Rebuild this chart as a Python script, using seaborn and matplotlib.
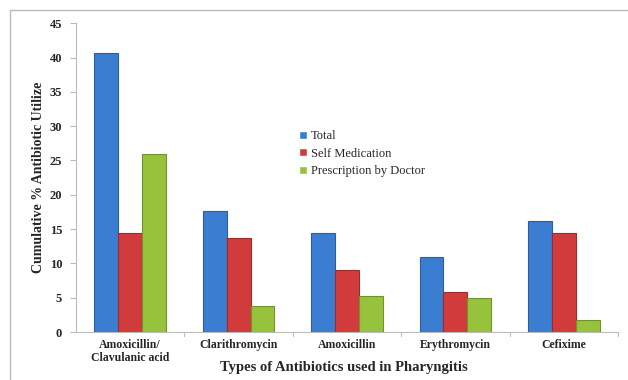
import matplotlib
matplotlib.use("Agg")
import matplotlib.pyplot as plt
from matplotlib.lines import Line2D
import seaborn as sns
import pandas as pd

antibiotics = ["Amoxicillin/\nClavulanic acid", "Clarithromycin", "Amoxicillin",
               "Erythromycin", "Cefixime"]
total = [40.6, 17.6, 14.4, 11.0, 16.2]
self_medication = [14.5, 13.7, 9.1, 5.9, 14.4]
prescription = [26.0, 3.8, 5.2, 4.9, 1.8]
series_names = ["Total", "Self Medication", "Prescription by Doctor"]
y_ticks = [0, 5, 10, 15, 20, 25, 30, 35, 40, 45]

rows = []
for name, vals in zip(series_names, [total, self_medication, prescription]):
    for ab, v in zip(antibiotics, vals):
        rows.append({"Antibiotic": ab, "Group": name, "Value": v})
df = pd.DataFrame(rows)

sns.set_style("white")
plt.rcParams["font.family"] = ["Liberation Serif", "DejaVu Serif"]

fig = plt.figure(figsize=(6.28, 3.80), dpi=100)
ax = fig.add_axes([0.121, 0.126, 0.863, 0.813])

palette = {"Total": "#3b7dd0", "Self Medication": "#d23b3b",
           "Prescription by Doctor": "#97c23c"}
sns.barplot(data=df, x="Antibiotic", y="Value", hue="Group", palette=palette,
            width=0.66, ax=ax, saturation=1, legend=True, errorbar=None)

edge = {"Total": "#2a5e9e", "Self Medication": "#9e2a2a",
        "Prescription by Doctor": "#6f9427"}
for cont, name in zip(ax.containers, series_names):
    for bar in cont:
        bar.set_edgecolor(edge[name])
        bar.set_linewidth(0.8)

ax.set_ylim(0, 45)
ax.set_xlim(-0.5, 4.5)
ax.set_yticks(y_ticks)
ax.set_yticklabels([str(t) for t in y_ticks], fontsize=9, fontweight="bold")
ax.set_xticks(range(len(antibiotics)))
ax.set_xticklabels(antibiotics, fontsize=8.5, fontweight="bold", linespacing=1.05)
ax.tick_params(axis="x", length=0, pad=5)
ax.tick_params(axis="y", length=4, color="#bbbbbb", width=0.8, left=True, pad=6)

# category separators along the x axis
for xb in [0.5, 1.5, 2.5, 3.5, 4.5]:
    ax.plot([xb, xb], [0, -0.6], color="#bbbbbb", lw=0.8, clip_on=False)

for s in ["top", "right"]:
    ax.spines[s].set_visible(False)
for s in ["left", "bottom"]:
    ax.spines[s].set_color("#bbbbbb")
    ax.spines[s].set_linewidth(0.8)

ax.set_ylabel("Cumulative % Antibiotic Utilize", fontsize=10, fontweight="bold",
              labelpad=3)
ax.set_xlabel("")
fig.text(0.547, 0.034, "Types of Antibiotics used in Pharyngitis", fontsize=10.5,
         fontweight="bold", ha="center", va="center")

leg = ax.legend(loc="upper left", bbox_to_anchor=(0.403, 0.67), frameon=False,
                fontsize=9, handlelength=0.6, handleheight=0.6,
                handletextpad=0.3, labelspacing=0.45, borderaxespad=0)

# outer frame (top and left edges)
fig.add_artist(Line2D([10 / 628, 10 / 628], [0, 1 - 10 / 380],
                      color="#bbbbbb", lw=1, transform=fig.transFigure))
fig.add_artist(Line2D([10 / 628, 1], [1 - 10 / 380, 1 - 10 / 380],
                      color="#bbbbbb", lw=1, transform=fig.transFigure))

fig.savefig("out.png", dpi=100)
